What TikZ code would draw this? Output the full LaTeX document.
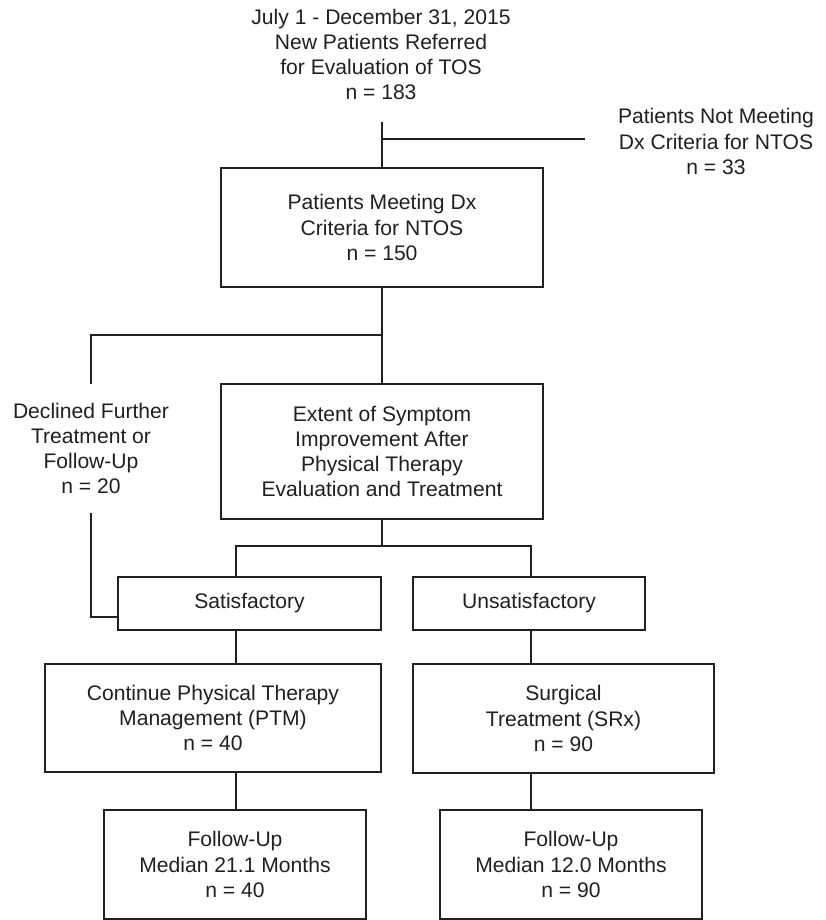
\documentclass[tikz,border=0pt]{standalone}
\usepackage{fontspec}
\setmainfont{Liberation Sans}
\definecolor{ink}{HTML}{231F20}
\tikzset{
  base/.style={align=center, text=ink, font=\fontsize{21.1}{25.3}\selectfont, inner sep=0pt},
  boxnode/.style={base, draw=ink, line width=1.2pt, rectangle},
  plain/.style={base},
  conn/.style={draw=ink, line width=1.2pt}
}
\begin{document}
\begin{tikzpicture}[x=1pt, y=-1pt]
\useasboundingbox[fill=white] (0,0) rectangle (825,920);

% text nodes
\node[plain] (top) at (381,54.5) {July 1 - December 31, 2015\\New Patients Referred\\for Evaluation of TOS\\n = 183};
\node[plain] (notmeet) at (716,141.5) {Patients Not Meeting\\Dx Criteria for NTOS\\n = 33};
\node[plain, minimum height=129pt] (decl) at (91,448.5) {Declined Further\\Treatment or\\Follow-Up\\n = 20};

% boxes
\node[boxnode, minimum width=322pt, minimum height=119pt] (box1) at (382,227.5) {Patients Meeting Dx\\Criteria for NTOS\\n = 150};
\node[boxnode, minimum width=322pt, minimum height=135pt] (box2) at (382,451.5) {Extent of Symptom\\Improvement After\\Physical Therapy\\Evaluation and Treatment};
\node[boxnode, minimum width=263pt, minimum height=53pt] (sat) at (249.5,603.5) {Satisfactory};
\node[boxnode, minimum width=232pt, minimum height=53pt] (unsat) at (529,603.5) {Unsatisfactory};
\node[boxnode, minimum width=336pt, minimum height=108pt] (cont) at (213,718) {Continue Physical Therapy\\Management (PTM)\\n = 40};
\node[boxnode, minimum width=301pt, minimum height=109pt] (surg) at (563.5,718.5) {Surgical\\Treatment (SRx)\\n = 90};
\node[boxnode, minimum width=262pt, minimum height=109pt] (fl) at (235,864.5) {Follow-Up\\Median 21.1 Months\\n = 40};
\node[boxnode, minimum width=262pt, minimum height=109pt] (fr) at (571,864.5) {Follow-Up\\Median 12.0 Months\\n = 90};

% helper coordinates
\coordinate (t0) at (382,122);
\coordinate (j1) at (382,139);
\coordinate (j1e) at (585,139);
\coordinate (j2) at (382,335);
\coordinate (j3) at (382,546);
\coordinate (xl) at (236,0);
\coordinate (xr) at (531,0);
\coordinate (dj) at (91,617);

% connectors
\draw[conn] (t0) -- (box1.north);
\draw[conn] (j1) -- (j1e);
\draw[conn] (box1.south) -- (box2.north);
\draw[conn] (j2) -| (decl.north);
\draw[conn] (decl.south) -- (dj) -- (dj -| sat.west);
\draw[conn] (box2.south) -- (j3);
\draw[conn] (xl |- sat.north) |- (j3) -| (xr |- unsat.north);
\draw[conn] (xl |- sat.south) -- (xl |- cont.north);
\draw[conn] (xl |- cont.south) -- (xl |- fl.north);
\draw[conn] (xr |- unsat.south) -- (xr |- surg.north);
\draw[conn] (xr |- surg.south) -- (xr |- fr.north);
\end{tikzpicture}
\end{document}
